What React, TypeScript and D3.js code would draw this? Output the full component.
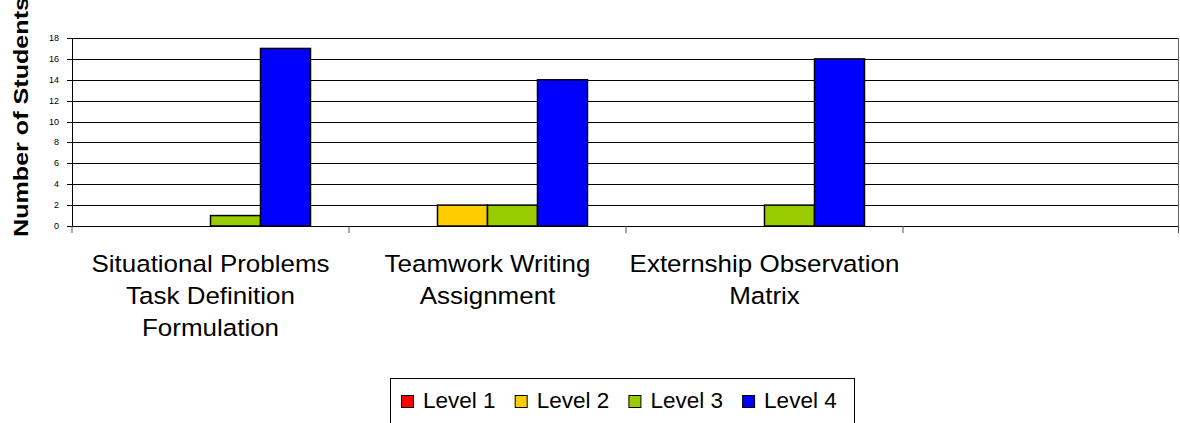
import React from "react";
import * as d3 from "d3";

const categories = ["cat1", "cat2", "cat3", "cat4"];
const categoryLabels = [
  ["Situational Problems", "Task Definition", "Formulation"],
  ["Teamwork Writing", "Assignment"],
  ["Externship Observation", "Matrix"],
  [],
];
const seriesNames = ["Level 1", "Level 2", "Level 3", "Level 4"];
const seriesColors = ["#FF0000", "#FFCC00", "#99CC00", "#0000FF"];
const level1 = [0, 0, 0, null];
const level2 = [0, 2, 0, null];
const level3 = [1, 2, 2, null];
const level4 = [17, 14, 16, null];
const yTicks = [0, 2, 4, 6, 8, 10, 12, 14, 16, 18];
const yTitle = "Number of Students";

const W = 1180;
const H = 423;
const FONT = "'Liberation Sans', Arial, sans-serif";

export default function App() {
  const series = [level1, level2, level3, level4];
  const x = d3.scaleBand<string>().domain(categories).range([72, 1180]).padding(0);
  const x1 = d3
    .scaleBand<string>()
    .domain(seriesNames)
    .range([0, x.bandwidth()])
    .paddingInner(0)
    .paddingOuter(0.77);
  const y = d3.scaleLinear().domain([0, 18]).range([226, 38]);

  const boundaries = categories.map((c) => x(c) as number).concat([x.range()[1]]);

  return (
    <svg
      width={W}
      height={H}
      style={{ position: "absolute", left: 0, top: 0, background: "#fff" }}
      fontFamily={FONT}
    >
      <rect x={0} y={0} width={W} height={H} fill="#fff" />
      {/* gridlines */}
      {yTicks.map((t) => (
        <line key={"g" + t} x1={72} x2={1178.5} y1={Math.round(y(t)) + 0.5} y2={Math.round(y(t)) + 0.5} stroke="#000" strokeWidth={1} />
      ))}
      {/* right border */}
      <line x1={1178.5} x2={1178.5} y1={y(18)} y2={y(0)} stroke="#666" strokeWidth={1} />
      {/* y tick marks and labels */}
      {yTicks.map((t) => (
        <g key={"t" + t}>
          <line x1={67} x2={72} y1={Math.round(y(t)) + 0.5} y2={Math.round(y(t)) + 0.5} stroke="#000" />
          <text x={59} y={y(t) + 3} fontSize={9} textAnchor="end" fill="#000">
            {t}
          </text>
        </g>
      ))}
      {/* bars */}
      {series.map((vals, si) =>
        vals.map((v, ci) => {
          if (v === null || v === 0) return null;
          const bx = (x(categories[ci]) as number) + (x1(seriesNames[si]) as number);
          return (
            <rect
              key={si + "-" + ci}
              x={bx}
              y={y(v)}
              width={x1.bandwidth()}
              height={y(0) - y(v)}
              fill={seriesColors[si]}
              stroke="#000"
              strokeWidth={1.5}
            />
          );
        })
      )}
      {/* axes */}
      <line x1={72.5} x2={72.5} y1={y(18)} y2={y(0)} stroke="#000" strokeWidth={1} />
      <line x1={72} x2={1179} y1={Math.round(y(0)) + 0.5} y2={Math.round(y(0)) + 0.5} stroke="#000" strokeWidth={1} />
      {boundaries.map((b, i) => (
        <line key={"b" + i} x1={Math.min(b, 1178.5)} x2={Math.min(b, 1178.5)} y1={y(0)} y2={y(0) + 7} stroke="#555" strokeWidth={1} />
      ))}
      {/* category labels */}
      {categories.map((c, ci) => (
        <g key={"c" + c} transform={`translate(${(x(c) as number) + x.bandwidth() / 2},0) scale(1.06,1)`}>
          <text x={0} y={272} fontSize={24.5} textAnchor="middle" fill="#000">
            {categoryLabels[ci].map((ln, li) => (
              <tspan key={li} x={0} dy={li === 0 ? 0 : 32}>
                {ln}
              </tspan>
            ))}
          </text>
        </g>
      ))}
      {/* y title */}
      <text
        transform="translate(28,237) rotate(-90)"
        fontSize={20.5}
        fontWeight="bold"
        textAnchor="start"
        fill="#000"
        textLength={240}
        lengthAdjust="spacingAndGlyphs"
      >
        {yTitle}
      </text>
      {/* legend */}
      <rect x={390.5} y={378.5} width={464} height={60} fill="#fff" stroke="#000" strokeWidth={1} />
      {seriesNames.map((s, i) => (
        <g key={"l" + s} transform={`translate(${401 + i * 113.7},0)`}>
          <rect x={0.5} y={395.5} width={12} height={12} fill={seriesColors[i]} stroke="#000" strokeWidth={1} />
          <text x={22} y={408} fontSize={22.5} fill="#000">
            {s}
          </text>
        </g>
      ))}
    </svg>
  );
}
